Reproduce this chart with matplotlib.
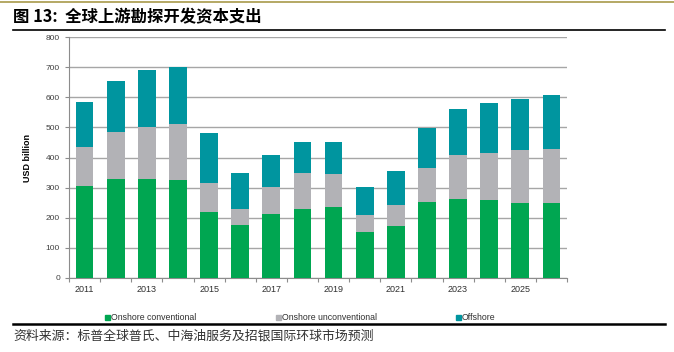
import numpy as np
import matplotlib.pyplot as plt
from matplotlib.lines import Line2D
from matplotlib.patches import Rectangle

plt.rcParams['font.family'] = ['Liberation Sans', 'DejaVu Sans']

years = list(range(2011, 2027))
onshore_conv = [306, 329, 329, 325, 220, 176, 212, 230, 237, 152, 174, 253, 263, 258, 248, 248]
onshore_unconv = [129, 157, 171, 186, 94, 52, 91, 120, 108, 57, 68, 111, 145, 158, 177, 181]
offshore = [150, 168, 190, 190, 168, 119, 106, 100, 107, 93, 114, 135, 152, 166, 169, 179]
tick_labels = ['2011', '2013', '2015', '2017', '2019', '2021', '2023', '2025']
series_names = ['Onshore conventional', 'Onshore unconventional', 'Offshore']

c_green = '#00a651'
c_gray = '#b2b2b6'
c_teal = '#00959f'

W, H = 674, 352
fig = plt.figure(figsize=(W / 100, H / 100), dpi=100)
ax = fig.add_axes([69 / W, 1 - 278 / H, 498 / W, 241 / H])

x = np.arange(len(years))
w = 0.57
conv = np.array(onshore_conv)
unconv = np.array(onshore_unconv)
off = np.array(offshore)
ax.bar(x, conv, w, color=c_green, zorder=3)
ax.bar(x, unconv, w, bottom=conv, color=c_gray, zorder=3)
ax.bar(x, off, w, bottom=conv + unconv, color=c_teal, zorder=3)

ax.set_xlim(-0.5, len(years) - 0.5)
ax.set_ylim(0, 800)
ax.set_yticks(range(0, 801, 100))
ax.yaxis.grid(True, color='#a6a6a6', linewidth=1.0, zorder=0)
ax.tick_params(axis='y', labelsize=6, colors='#404040', length=3, color='#8c8c8c')
# ticks between bars, labels every other year
ax.set_xticks(np.arange(-0.5, len(years), 1))
ax.set_xticklabels([])
ax.set_xticks(x[::2], minor=True)
ax.set_xticklabels(tick_labels, minor=True)
ax.tick_params(axis='x', which='major', length=3, color='#8c8c8c')
ax.tick_params(axis='x', which='minor', length=0, labelsize=6.5, colors='#303030', pad=5)
for s in ['top', 'right']:
    ax.spines[s].set_visible(False)
ax.spines['left'].set_color('#8c8c8c')
ax.spines['bottom'].set_color('#8c8c8c')
ax.set_ylabel('USD billion', fontsize=6.5, fontweight='bold', labelpad=10)

# legend drawn by hand to match the wide spacing
leg_x = [107, 278, 458]
leg_y = 317
for px, name, col in zip(leg_x, series_names, [c_green, c_gray, c_teal]):
    fig.add_artist(Rectangle(((px - 2.5) / W, 1 - (leg_y + 2.5) / H), 5 / W, 5 / H,
                             color=col, transform=fig.transFigure))
    fig.text((px + 4) / W, 1 - leg_y / H, name, fontsize=6.3, color='#303030',
             va='center', ha='left')

# title, rules and source
fig.add_artist(Line2D([0, 1], [1 - 1.5 / H] * 2, color='#a89a4a', linewidth=1.2))
fig.text(13 / W, 1 - 17 / H, '图 13:  全球上游勘探开发资本支出', fontsize=11.8, fontweight='bold',
         family=['Noto Sans CJK SC', 'DejaVu Sans'], va='center', ha='left')
fig.add_artist(Line2D([13 / W, 665 / W], [1 - 30 / H] * 2, color='black', linewidth=1.2))
fig.add_artist(Line2D([13 / W, 665 / W], [1 - 324 / H] * 2, color='black', linewidth=1.8))
fig.text(13 / W, 1 - 336 / H, '资料来源：标普全球普氏、中海油服务及招银国际环球市场预测', fontsize=9.3,
         family=['Noto Sans CJK SC', 'DejaVu Sans'], va='center', ha='left', color='#333333')

fig.savefig('out.png', dpi=100)
